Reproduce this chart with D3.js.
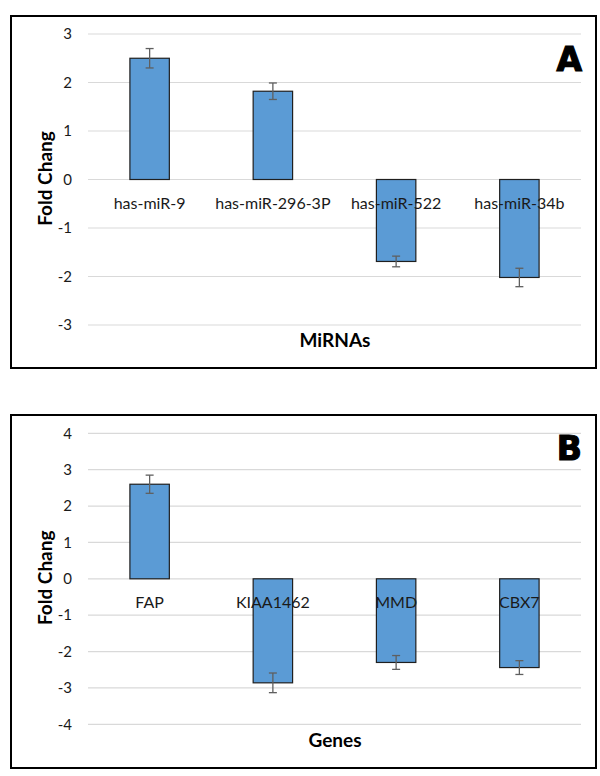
<!DOCTYPE html>
<html>
<head>
<meta charset="utf-8">
<title>Fold change</title>
<script src="https://cdn.jsdelivr.net/npm/d3@7"></script>
<style>
  html, body { margin: 0; padding: 0; background: #fff; }
  svg { display: block; }
</style>
</head>
<body>
<div id="chart"></div>
<script>
// panel A data
var mirnas = ["has-miR-9", "has-miR-296-3P", "has-miR-522", "has-miR-34b"];
var mirnaFold = [2.5, 1.82, -1.69, -2.02];
var mirnaErr = [0.2, 0.17, 0.11, 0.19];
var ticksA = [3, 2, 1, 0, -1, -2, -3];

// panel B data
var genes = ["FAP", "KIAA1462", "MMD", "CBX7"];
var geneFold = [2.6, -2.86, -2.3, -2.44];
var geneErr = [0.25, 0.27, 0.19, 0.19];
var ticksB = [4, 3, 2, 1, 0, -1, -2, -3, -4];

var W = 600, H = 776;
var svg = d3.select("#chart").append("svg").attr("width", W).attr("height", H);

function panel(opt) {
  var g = svg.append("g");
  // frame
  g.append("rect")
    .attr("x", 11).attr("y", opt.top)
    .attr("width", 585).attr("height", opt.bottom - opt.top)
    .attr("fill", "#fff").attr("stroke", "#000").attr("stroke-width", 2);

  var x = d3.scaleBand().domain(opt.cats).range([88, 581]).paddingInner(0.68).paddingOuter(0.34);
  var y = d3.scaleLinear().domain(opt.domain).range([opt.y0, opt.y1]);

  // gridlines
  g.append("g").selectAll("line").data(opt.ticks).join("line")
    .attr("x1", 88).attr("x2", 581)
    .attr("y1", function(d) { return y(d); }).attr("y2", function(d) { return y(d); })
    .attr("stroke", "#d9d9d9").attr("stroke-width", 1.2);

  // y axis labels (plain hyphen for negatives, as in the original)
  var ax = d3.axisLeft(y).tickValues(opt.ticks).tickSize(0).tickPadding(0)
    .tickFormat(function(d) { return String(d); });
  var ag = g.append("g").attr("transform", "translate(72,0)").call(ax);
  ag.select(".domain").remove();
  ag.selectAll("text").attr("font-family", "Lato, sans-serif").attr("font-size", 15).attr("fill", "#1a1a1a");

  // bars
  g.append("g").selectAll("rect").data(opt.vals).join("rect")
    .attr("x", function(d, i) { return x(opt.cats[i]); })
    .attr("width", x.bandwidth())
    .attr("y", function(d) { return y(Math.max(0, d)); })
    .attr("height", function(d) { return Math.abs(y(d) - y(0)); })
    .attr("fill", "#5b9bd5").attr("stroke", "#1f1f1f").attr("stroke-width", 1.2);

  // category labels, drawn over the bars like the original
  g.append("g").selectAll("text").data(opt.cats).join("text")
    .attr("x", function(d) { return x(d) + x.bandwidth() / 2; })
    .attr("y", y(0) + 29)
    .attr("text-anchor", "middle")
    .attr("font-family", "Lato, sans-serif").attr("font-size", 16).attr("fill", "#1a1a1a")
    .text(function(d) { return d; });

  // error bars
  var eb = g.append("g").attr("stroke", "#5f5f5f").attr("stroke-width", 1.3);
  opt.vals.forEach(function(v, i) {
    var cx = x(opt.cats[i]) + x.bandwidth() / 2;
    var lo = y(v - opt.err[i]), hi = y(v + opt.err[i]);
    eb.append("line").attr("x1", cx).attr("x2", cx).attr("y1", lo).attr("y2", hi);
    eb.append("line").attr("x1", cx - 4).attr("x2", cx + 4).attr("y1", lo).attr("y2", lo);
    eb.append("line").attr("x1", cx - 4).attr("x2", cx + 4).attr("y1", hi).attr("y2", hi);
  });

  // axis titles
  var midY = (opt.y0 + opt.y1) / 2 - 1;
  g.append("text")
    .attr("transform", "translate(52," + midY + ") rotate(-90)")
    .attr("text-anchor", "middle")
    .attr("font-family", "Lato, sans-serif").attr("font-weight", "bold").attr("font-size", 19)
    .text("Fold Chang");
  g.append("text")
    .attr("x", 335).attr("y", opt.xTitleY)
    .attr("text-anchor", "middle")
    .attr("font-family", "Lato, sans-serif").attr("font-weight", "bold").attr("font-size", 19)
    .text(opt.xTitle);

  // panel letter
  g.append("text")
    .attr("x", 582).attr("y", opt.letterY)
    .attr("text-anchor", "end")
    .attr("font-family", "'DejaVu Sans', sans-serif").attr("font-weight", "900").attr("font-size", 33)
    .attr("stroke", "#000").attr("stroke-width", 1.2)
    .text(opt.letter);
}

panel({
  top: 16, bottom: 368,
  cats: mirnas, vals: mirnaFold, err: mirnaErr, ticks: ticksA,
  domain: [3, -3], y0: 34, y1: 325,
  xTitle: "MiRNAs", xTitleY: 347, letter: "A", letterY: 71
});

panel({
  top: 415, bottom: 768,
  cats: genes, vals: geneFold, err: geneErr, ticks: ticksB,
  domain: [4, -4], y0: 433.3, y1: 724.3,
  xTitle: "Genes", xTitleY: 747, letter: "B", letterY: 460
});
</script>
</body>
</html>
